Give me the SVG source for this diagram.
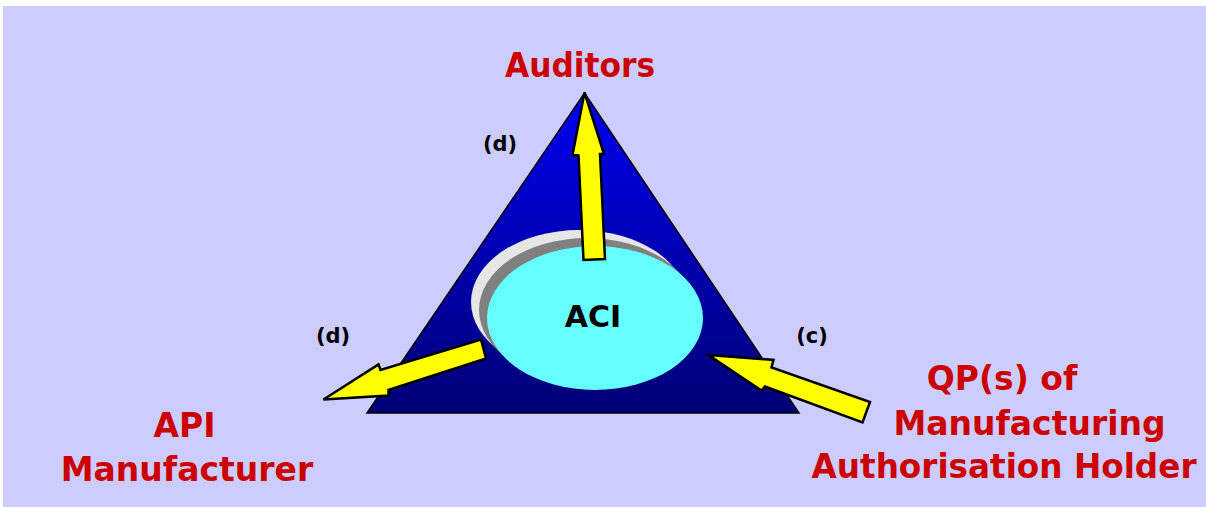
<svg xmlns="http://www.w3.org/2000/svg" width="1206" height="507" viewBox="0 0 1206 507">
  <defs>
    <linearGradient id="triGrad" x1="0" y1="93" x2="0" y2="413" gradientUnits="userSpaceOnUse">
      <stop offset="0" stop-color="#0000F0"/>
      <stop offset="1" stop-color="#000075"/>
    </linearGradient>
    <style>
      .lbl { font-family: "DejaVu Sans", Verdana, sans-serif; font-weight: bold; fill: #CC0000; text-anchor: middle; }
      .tag { font-family: "DejaVu Sans", Verdana, sans-serif; font-weight: bold; fill: #000000; text-anchor: middle; font-size: 21px; }
      .arrow { fill: #FFFF00; stroke: #000000; stroke-width: 2.5; stroke-linejoin: miter; }
    </style>
  </defs>
  <rect x="0" y="0" width="1206" height="507" fill="#FFFFFF"/>
  <rect x="3" y="6" width="1203" height="501" fill="#CCCCFF"/>

  <g id="triangle">
    <polygon points="584.5,93 799,413 367,413" fill="url(#triGrad)" stroke="#000000" stroke-width="1.5"/>
  </g>

  <g id="aci">
    <ellipse cx="579" cy="302" rx="108" ry="72" fill="#E6E6E6"/>
    <ellipse cx="587" cy="310" rx="108" ry="72" fill="#808080"/>
    <ellipse cx="595" cy="318" rx="108" ry="72" fill="#66FFFF"/>
    <text x="593" y="327" font-family="DejaVu Sans, Verdana, sans-serif" font-weight="bold" font-size="30" text-anchor="middle" fill="#000000">ACI</text>
  </g>

  <g id="connectors">
    <polygon class="arrow" points="584.5,92.5 604,154 600,154 605,259 583.5,260 578.5,155.5 572.5,155"/>
    <polygon class="arrow" points="323.5,399.5 378.5,364.5 380.5,370 481,339.5 486,358.5 388.5,390 388.5,395.5"/>
    <polygon class="arrow" points="708.5,355 773.5,360 771.5,367.5 870,402 862.5,422.5 765,386.5 761.5,390.5"/>
    <text class="tag" x="500" y="151">(d)</text>
    <text class="tag" x="333" y="343">(d)</text>
    <text class="tag" x="812" y="343">(c)</text>
  </g>

  <g id="auditors">
    <text class="lbl" x="580" y="77" font-size="34" textLength="150" lengthAdjust="spacingAndGlyphs">Auditors</text>
  </g>

  <g id="api-manufacturer">
    <text class="lbl" x="184.5" y="437" font-size="33">API</text>
    <text class="lbl" x="187" y="481" font-size="33">Manufacturer</text>
  </g>

  <g id="qp-holder">
    <text class="lbl" x="1002" y="390" font-size="33">QP(s) of</text>
    <text class="lbl" x="1029.5" y="435" font-size="33">Manufacturing</text>
    <text class="lbl" x="1004" y="478" font-size="33" textLength="385" lengthAdjust="spacingAndGlyphs">Authorisation Holder</text>
  </g>
</svg>
